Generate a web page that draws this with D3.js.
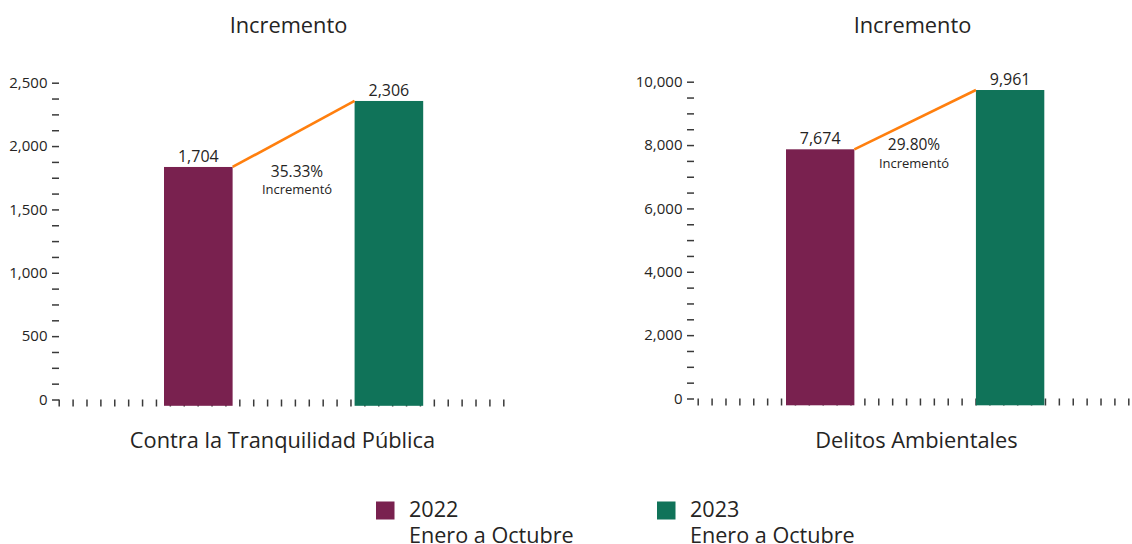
<!DOCTYPE html>
<html lang="es">
<head>
<meta charset="utf-8">
<title>Incremento</title>
<script src="https://cdn.jsdelivr.net/npm/d3@7"></script>
<style>
  html, body { margin: 0; padding: 0; background: #ffffff; }
  svg { display: block; font-family: "Open Sans", "Noto Sans", sans-serif; }
  .tick line { stroke: #3a3a3a; stroke-width: 1.5; }
  .tick text { fill: #252423; }
</style>
</head>
<body>
<svg id="chart" width="1132" height="544"></svg>
<script>
// ---- data ----
const years = ["2022", "2023"];
const periodLabel = "Enero a Octubre";
const seriesColors = ["#79214f", "#107359"];
const panelTitles = ["Incremento", "Incremento"];
const categories = ["Contra la Tranquilidad Pública", "Delitos Ambientales"];
const valuesTranquilidad = [1704, 2306];
const valuesAmbientales = [7674, 9961];
const changeNote = "Incrementó";
const yTicksTranquilidad = [0, 500, 1000, 1500, 2000, 2500];
const yTicksAmbientales = [0, 2000, 4000, 6000, 8000, 10000];
const yMinorStepTranquilidad = 125;
const yMinorStepAmbientales = 500;

// ---- layout of each panel ----
const panels = [
  {
    title: panelTitles[0], category: categories[0], values: valuesTranquilidad,
    yTicks: yTicksTranquilidad, minorStep: yMinorStepTranquilidad,
    axisX: 59, axisRange: [399.5, 82.7],
    barScaleRange: [353.8, 79.7], barBottom: 405.8,
    bandRange: [164, 423.2],
    xTickRange: [58.7, 503.3], xTickCount: 32,
    titleX: 288.5, categoryX: 282.5,
    pctX: 297, pctY: 177, noteY: 194
  },
  {
    title: panelTitles[1], category: categories[1], values: valuesAmbientales,
    yTicks: yTicksAmbientales, minorStep: yMinorStepAmbientales,
    axisX: 694, axisRange: [398.5, 81.7],
    barScaleRange: [348.3, 89.0], barBottom: 405.3,
    bandRange: [786, 1044.3],
    xTickRange: [697.7, 1128.3], xTickCount: 31,
    titleX: 912.5, categoryX: 916.5,
    pctX: 914, pctY: 150, noteY: 168
  }
];

const svg = d3.select("#chart");
const fmtInt = d3.format(",");
const fmtPct = d3.format(".2%");

panels.forEach(p => {
  const g = svg.append("g");
  const yMax = d3.max(p.yTicks);

  // value axis with minor ticks, labels on the major ones
  const y = d3.scaleLinear().domain([0, yMax]).range(p.axisRange);
  const minorValues = d3.range(0, yMax + p.minorStep / 2, p.minorStep);
  const yAxis = d3.axisLeft(y)
    .tickValues(minorValues)
    .tickSize(7)
    .tickPadding(4.5)
    .tickFormat(v => p.yTicks.includes(v) ? fmtInt(v) : "");
  const ay = g.append("g").attr("transform", `translate(${p.axisX},0)`).call(yAxis);
  ay.select(".domain").remove();
  ay.selectAll(".tick text").attr("font-size", 15).attr("font-family", "Open Sans");

  // small tick marks along the base
  const xt = d3.scaleLinear().domain([0, p.xTickCount]).range(p.xTickRange);
  const xAxis = d3.axisBottom(xt)
    .tickValues(d3.range(0, p.xTickCount + 1))
    .tickSize(7)
    .tickFormat("");
  const ax = g.append("g").attr("transform", `translate(0,${p.axisRange[0]})`).call(xAxis);
  ax.select(".domain").remove();
  ax.selectAll(".tick line").attr("stroke-width", 1.4);

  // bars
  const x = d3.scaleBand().domain(years).range(p.bandRange).paddingInner(0.64).paddingOuter(0);
  const yBar = d3.scaleLinear().domain([0, yMax]).range(p.barScaleRange);
  g.selectAll("rect.bar")
    .data(p.values)
    .join("rect")
    .attr("class", "bar")
    .attr("x", (d, i) => x(years[i]))
    .attr("width", x.bandwidth())
    .attr("y", d => yBar(d))
    .attr("height", d => p.barBottom - yBar(d))
    .attr("fill", (d, i) => seriesColors[i]);

  // value labels
  g.selectAll("text.val")
    .data(p.values)
    .join("text")
    .attr("class", "val")
    .attr("x", (d, i) => x(years[i]) + x.bandwidth() / 2)
    .attr("y", d => yBar(d) - 5)
    .attr("text-anchor", "middle")
    .attr("font-size", 16)
    .attr("fill", "#252423")
    .text(d => fmtInt(d));

  // connector between the two bar tops
  g.append("line")
    .attr("x1", x(years[0]) + x.bandwidth())
    .attr("y1", yBar(p.values[0]))
    .attr("x2", x(years[1]))
    .attr("y2", yBar(p.values[1]))
    .attr("stroke", "#ff7f0e")
    .attr("stroke-width", 2.6);

  // change annotation
  const change = (p.values[1] - p.values[0]) / p.values[0];
  g.append("text")
    .attr("x", p.pctX).attr("y", p.pctY)
    .attr("text-anchor", "middle")
    .attr("font-size", 15.5)
    .attr("fill", "#252423")
    .text(fmtPct(change));
  g.append("text")
    .attr("x", p.pctX).attr("y", p.noteY)
    .attr("text-anchor", "middle")
    .attr("font-size", 13)
    .attr("fill", "#252423")
    .text(changeNote);

  // panel title and category label
  g.append("text")
    .attr("x", p.titleX).attr("y", 33)
    .attr("text-anchor", "middle")
    .attr("font-size", 21.8)
    .attr("fill", "#252423")
    .text(p.title);
  g.append("text")
    .attr("x", p.categoryX).attr("y", 448)
    .attr("text-anchor", "middle")
    .attr("font-size", 21.8)
    .attr("fill", "#252423")
    .text(p.category);
});

// legend
const legendX = [376, 657];
const legend = svg.append("g");
years.forEach((yr, i) => {
  const lg = legend.append("g").attr("transform", `translate(${legendX[i]},0)`);
  lg.append("rect")
    .attr("x", 0).attr("y", 501.5)
    .attr("width", 18.5).attr("height", 18)
    .attr("fill", seriesColors[i]);
  const t = lg.append("text")
    .attr("x", 33).attr("y", 517.3)
    .attr("font-size", 21.6)
    .attr("fill", "#252423");
  t.append("tspan").attr("x", 33).text(yr);
  t.append("tspan").attr("x", 33).attr("dy", 26).text(periodLabel);
});
</script>
</body>
</html>
